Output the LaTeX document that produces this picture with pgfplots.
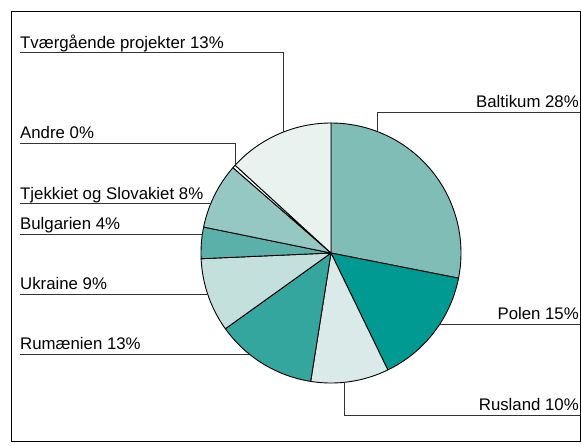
\documentclass[border=0pt]{standalone}
\usepackage{pgfplots}
\pgfplotsset{compat=1.18}
\usepackage{fontspec}
\setmainfont{Liberation Sans}
\definecolor{cBalt}{HTML}{7FBDB6}
\definecolor{cPol}{HTML}{009A93}
\definecolor{cRus}{HTML}{D9EAE9}
\definecolor{cRum}{HTML}{35A69E}
\definecolor{cUkr}{HTML}{C3E0DD}
\definecolor{cBul}{HTML}{5BB1AA}
\definecolor{cTje}{HTML}{95C8C3}
\definecolor{cAnd}{HTML}{FFFFFF}
\definecolor{cTva}{HTML}{EAF2F0}
\definecolor{lead}{HTML}{333333}
% slice: start (cumulative %), share (%), colour
\newcommand{\slice}[3]{%
  \addplot[fill=#3, draw=black, line width=0.9pt, line join=round, domain={(#1)*3.6}:{(#1+#2)*3.6}, samples=80, variable=\t]
    ({331+130*sin(\t)},{253-130*cos(\t)}) -- (axis cs:331,253) -- cycle;}
\begin{document}
\begin{tikzpicture}
\path[use as bounding box] (0,0) rectangle (581pt,445pt);
\begin{axis}[
  at={(0,0)}, anchor=south west,
  scale only axis, width=581pt, height=445pt,
  xmin=0, xmax=581, ymin=0, ymax=445, y dir=reverse,
  hide axis, clip=false,
]
% shares (%): Baltikum 28.1, Polen 14.7, Rusland 9.7, Rumaenien 12.6, Ukraine 9.2,
% Bulgarien 3.9, Tjekkiet og Slovakiet 8.2, Andre 0.4, Tvaergaaende projekter 13.2
\slice{0}{28.1}{cBalt}
\slice{28.1}{14.7}{cPol}
\slice{42.8}{9.7}{cRus}
\slice{52.5}{12.6}{cRum}
\slice{65.1}{9.2}{cUkr}
\slice{74.3}{3.9}{cBul}
\slice{78.2}{8.2}{cTje}
\slice{86.4}{0.4}{cAnd}
\slice{86.8}{13.2}{cTva}
% frame
\draw[black, line width=0.9pt] (axis cs:11,11) rectangle (axis cs:580,441);
% leader lines
\draw[lead, line width=0.9pt] (axis cs:20,52) -- (axis cs:283,52) -- (axis cs:283,132);
\draw[lead, line width=0.9pt] (axis cs:20,143) -- (axis cs:235,143) -- (axis cs:235,165);
\draw[lead, line width=0.9pt] (axis cs:20,203) -- (axis cs:211,203);
\draw[lead, line width=0.9pt] (axis cs:20,234) -- (axis cs:202.5,234);
\draw[lead, line width=0.9pt] (axis cs:20,294) -- (axis cs:207.5,294);
\draw[lead, line width=0.9pt] (axis cs:20,354) -- (axis cs:249,354);
\draw[lead, line width=0.9pt] (axis cs:580,112) -- (axis cs:377,112) -- (axis cs:377,131);
\draw[lead, line width=0.9pt] (axis cs:580,324) -- (axis cs:440,324);
\draw[lead, line width=0.9pt] (axis cs:580,415) -- (axis cs:344,415) -- (axis cs:344,382);
% labels
\begin{scope}[every node/.style={font=\fontsize{16.8}{19}\selectfont, inner sep=0pt, text=black}]
\node[anchor=base west] at (axis cs:20,48) {Tværgående projekter 13\%};
\node[anchor=base west] at (axis cs:20,138) {Andre 0\%};
\node[anchor=base west] at (axis cs:20,199) {Tjekkiet og Slovakiet 8\%};
\node[anchor=base west] at (axis cs:20,229) {Bulgarien 4\%};
\node[anchor=base west] at (axis cs:20,289) {Ukraine 9\%};
\node[anchor=base west] at (axis cs:20,349) {Rumænien 13\%};
\node[anchor=base east] at (axis cs:579,107) {Baltikum 28\%};
\node[anchor=base east] at (axis cs:579,319) {Polen 15\%};
\node[anchor=base east] at (axis cs:579,410) {Rusland 10\%};
\end{scope}
\end{axis}
\end{tikzpicture}
\end{document}
